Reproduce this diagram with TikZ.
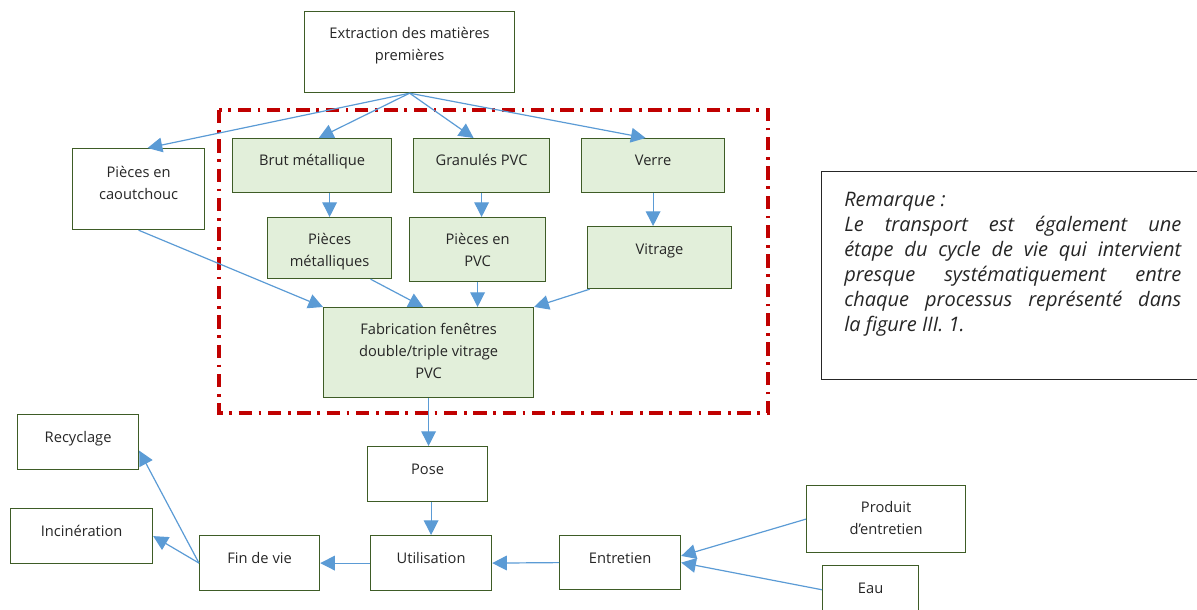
\documentclass[tikz,border=0pt]{standalone}
\usepackage{fontspec}
\setmainfont{Open Sans}
\usetikzlibrary{arrows.meta}

\definecolor{boxedge}{RGB}{62,92,38}
\definecolor{boxfill}{RGB}{226,239,218}
\definecolor{flowblue}{RGB}{91,155,213}
\definecolor{zonered}{RGB}{192,0,0}
\definecolor{txtgray}{RGB}{38,38,38}

\tikzset{
  box/.style={draw=boxedge, line width=0.9pt, anchor=north west, inner sep=0pt, fill=white},
  gbox/.style={box, fill=boxfill},
  txt/.style={anchor=base, align=center, inner sep=0pt, text=txtgray,
              font=\fontsize{11}{16.5}\selectfont},
  flow/.style={draw=flowblue, line width=0.9pt, -{Triangle[width=11pt,length=11pt]}},
}

\begin{document}
\begin{tikzpicture}[x=0.75pt,y=-0.75pt]
\useasboundingbox (0,0) rectangle (1197,610);

% zone de fabrication
\draw[zonered, line width=2.4pt, dash pattern=on 10pt off 5pt on 2pt off 5pt] (219,110) rectangle (768,413);

% matieres premieres (base = derniere ligne)
\node[box, minimum width=157.5pt, minimum height=60.75pt] (ext) at (304,11) {};
\node[txt] (ext-t) at ([yshift=-37pt]ext.north) {Extraction des matières\\premières};

\node[box, minimum width=99pt, minimum height=60.75pt] (caout) at (72,148) {};
\node[txt] (caout-t) at ([yshift=-38.5pt]caout.north) {Pièces en\\caoutchouc};

\node[gbox, minimum width=119.25pt, minimum height=40.5pt] (brut) at (232,138) {};
\node[txt] (brut-t) at ([yshift=-21pt]brut.north) {Brut métallique};

\node[gbox, minimum width=102pt, minimum height=40.5pt] (gran) at (413,138) {};
\node[txt] (gran-t) at ([yshift=-21pt]gran.north) {Granulés PVC};

\node[gbox, minimum width=107.25pt, minimum height=40.5pt] (verre) at (581,138) {};
\node[txt] (verre-t) at ([yshift=-21pt]verre.north) {Verre};

% pieces
\node[gbox, minimum width=93pt, minimum height=45.75pt] (pmet) at (267,217) {};
\node[txt] (pmet-t) at ([yshift=-37pt]pmet.north) {Pièces\\métalliques};

\node[gbox, minimum width=102pt, minimum height=48pt] (ppvc) at (409,217) {};
\node[txt] (ppvc-t) at ([yshift=-37pt]ppvc.north) {Pièces en\\PVC};

\node[gbox, minimum width=108pt, minimum height=46.5pt] (vitr) at (587,226) {};
\node[txt] (vitr-t) at ([yshift=-21pt]vitr.north) {Vitrage};

\node[gbox, minimum width=157.5pt, minimum height=67.5pt] (fab) at (323,307) {};
\node[txt] (fab-t) at ([yshift=-53.5pt]fab.north) {Fabrication fenêtres\\double/triple vitrage\\PVC};

% vie du produit
\node[box, minimum width=90pt, minimum height=41.25pt] (pose) at (367,446) {};
\node[txt] (pose-t) at ([yshift=-21pt]pose.north) {Pose};

\node[box, minimum width=90.75pt, minimum height=41.25pt] (util) at (370,535) {};
\node[txt] (util-t) at ([yshift=-21pt]util.north) {Utilisation};

\node[box, minimum width=90pt, minimum height=41.25pt] (fin) at (199,535) {};
\node[txt] (fin-t) at ([yshift=-21pt]fin.north) {Fin de vie};

\node[box, minimum width=90.75pt, minimum height=41.25pt] (recy) at (17,414) {};
\node[txt] (recy-t) at ([yshift=-21pt]recy.north) {Recyclage};

\node[box, minimum width=106.5pt, minimum height=41.25pt] (inci) at (10,508) {};
\node[txt] (inci-t) at ([yshift=-21pt]inci.north) {Incinération};

\node[box, minimum width=90.75pt, minimum height=40.5pt] (entr) at (559,535) {};
\node[txt] (entr-t) at ([yshift=-21pt]entr.north) {Entretien};

\node[box, minimum width=119.25pt, minimum height=50.25pt] (prod) at (806,485) {};
\node[txt] (prod-t) at ([yshift=-37pt]prod.north) {Produit\\d’entretien};

\node[box, minimum width=72pt, minimum height=41.25pt] (eau) at (822,565) {};
\node[txt] (eau-t) at ([yshift=-21pt]eau.north) {Eau};

% remarque
\node[draw=txtgray, line width=0.9pt, anchor=north west, inner sep=0pt,
      minimum width=292pt, minimum height=156pt] (rem) at (821,171) {};
\node[anchor=base west, inner sep=0pt, text width=252.75pt, align=justify, text=txtgray,
      font=\fontsize{15}{18.75}\selectfont\itshape] (rem-t) at (844,206)
  {Remarque :\\
   Le transport est également une\linebreak
   étape du cycle de vie qui intervient\linebreak
   presque systématiquement entre\linebreak
   chaque processus représenté dans\linebreak
   la figure III. 1.};

% fleches
\draw[flow] (ext.south) -- ([xshift=6.75pt]caout.north);
\draw[flow] (ext.south) -- ([xshift=5pt]brut.north);
\draw[flow] (ext.south) -- ([xshift=-6pt]gran.north);
\draw[flow] (ext.south) -- ([xshift=-5.6pt]verre.north);

\draw[flow] (brut.south -| pmet.north) -- (pmet.north);
\draw[flow] (gran.south) -- (gran.south |- ppvc.north);
\draw[flow] (verre.south) -- (verre.south |- vitr.north);

\draw[flow] (caout.south) -- (fab.north west);
\draw[flow] ([xshift=30.75pt]pmet.south) -- ([xshift=-4pt]fab.north);
\draw[flow] (ppvc.south) -- (ppvc.south |- fab.north);
\draw[flow] ([xshift=2pt]vitr.south west) -- (fab.north east);

\draw[flow] (fab.south) -- (fab.south |- pose.north);
\draw[flow] (pose.south -| util.north) -- (util.north);
\draw[flow] (util.west) -- (fin.east);
\draw[flow] (fin.west) -- ([yshift=-6.4pt]recy.east);
\draw[flow] (fin.west) -- (inci.east);

\draw[flow] (entr.west) -- (util.east);
\draw[flow] (prod.west) -- ([yshift=5pt]entr.east);
\draw[flow] ([yshift=2.5pt]eau.west) -- (entr.east);

\end{tikzpicture}
\end{document}
